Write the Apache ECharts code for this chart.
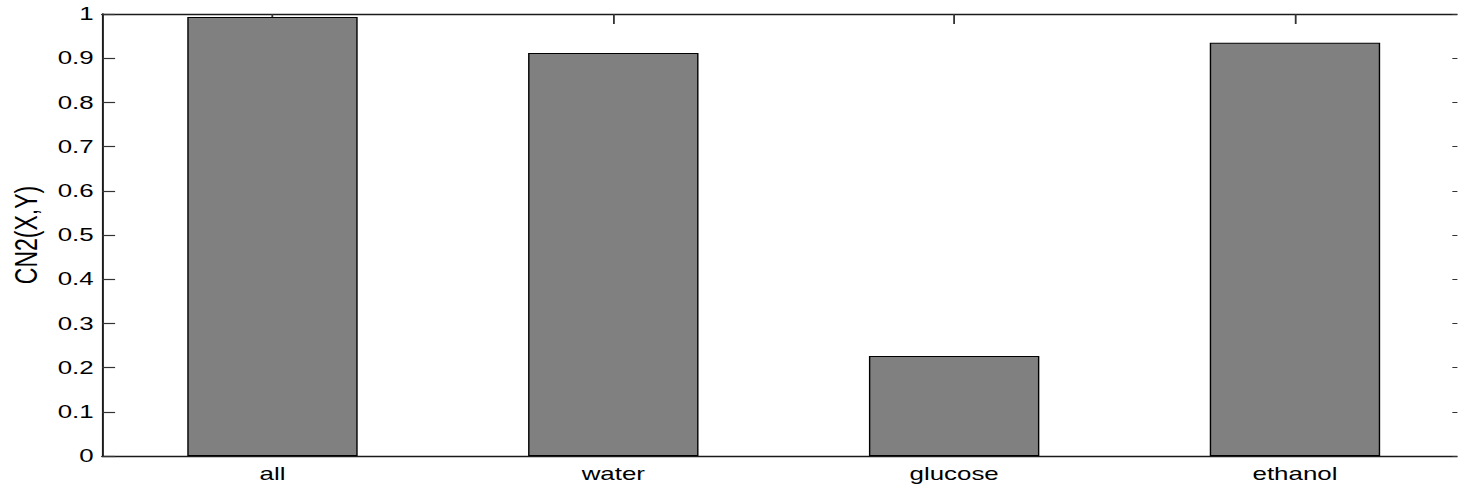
<!DOCTYPE html>
<html>
<head>
<meta charset="utf-8">
<title>CN2(X,Y)</title>
<script src="https://cdn.jsdelivr.net/npm/echarts@6/dist/echarts.min.js"></script>
<style>
  html, body { margin: 0; padding: 0; background: #fff; overflow: hidden; }
  #wrap { width: 1458px; height: 491px; overflow: hidden; }
  /* the figure is drawn narrower and stretched sideways, giving its wide type */
  #chart { width: 1041.43px; height: 491px; transform: scaleX(1.4); transform-origin: 0 0; }
</style>
</head>
<body>
<div id="wrap"><div id="chart"></div></div>
<script>
const categories = ['all', 'water', 'glucose', 'ethanol'];
const cn2Values = [0.993, 0.912, 0.226, 0.935];
const yTicks = { min: 0, max: 1, step: 0.1 };
const yName = 'CN2(X,Y)';

const font = '"Liberation Sans", Arial, Helvetica, sans-serif';
const axisColor = '#1a1a1a';
const tickColor = '#333';

const chart = echarts.init(document.getElementById('chart'), null, { renderer: 'svg' });

const baseX = {
  type: 'category',
  data: categories,
  boundaryGap: true,
  axisLine: { show: true, onZero: false, lineStyle: { color: axisColor, width: 1.4 } },
  axisTick: { show: true, inside: true, alignWithLabel: true, interval: 0, length: 10, lineStyle: { color: tickColor, width: 1.3 } },
  splitLine: { show: false }
};
const baseY = {
  type: 'value',
  min: yTicks.min,
  max: yTicks.max,
  interval: yTicks.step,
  axisLine: { show: true, onZero: false, lineStyle: { color: axisColor, width: 1.4 } },
  axisTick: { show: true, inside: true, length: 9.3, lineStyle: { color: tickColor, width: 1.2 } },
  splitLine: { show: false }
};

chart.setOption({
  animation: false,
  backgroundColor: '#ffffff',
  grid: { left: 72.9, right: -5.7, top: 14, bottom: 35, containLabel: false, outerBoundsMode: 'none' },
  xAxis: [
    Object.assign({}, baseX, {
      position: 'bottom',
      axisLabel: { show: true, interval: 0, margin: 8, color: '#000', fontSize: 18.5, fontFamily: font }
    }),
    Object.assign({}, baseX, {
      position: 'top',
      axisLabel: { show: false }
    })
  ],
  yAxis: [
    Object.assign({}, baseY, {
      position: 'left',
      name: yName,
      nameLocation: 'middle',
      nameGap: 43,
      nameRotate: 90,
      nameTextStyle: { color: '#000', fontSize: 23, fontFamily: font },
      axisLabel: {
        show: true, margin: 6, color: '#000', fontSize: 18.5, fontFamily: font,
        formatter: v => String(Math.round(v * 10) / 10)
      }
    }),
    Object.assign({}, baseY, {
      position: 'right',
      axisLabel: { show: false }
    })
  ],
  series: [{
    type: 'bar',
    xAxisIndex: 0,
    yAxisIndex: 0,
    data: cn2Values,
    barWidth: '50%',
    itemStyle: { color: '#808080', borderColor: '#000', borderWidth: 1 },
    z: 3
  }]
});
</script>
</body>
</html>
